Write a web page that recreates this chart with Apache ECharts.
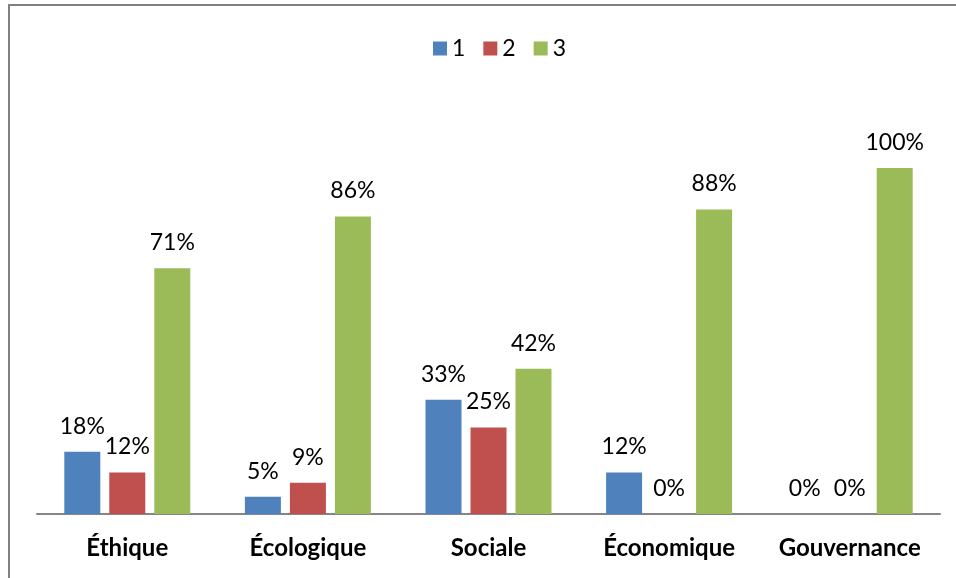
<!DOCTYPE html>
<html>
<head>
<meta charset="utf-8">
<script src="https://cdn.jsdelivr.net/npm/echarts@6/dist/echarts.min.js"></script>
<style>
  html, body { margin: 0; padding: 0; background: #fff; }
  #chart { width: 956px; height: 578px; }
</style>
</head>
<body>
<div id="chart"></div>
<script>
const categories = ['Éthique', 'Écologique', 'Sociale', 'Économique', 'Gouvernance']
const series1 = [18, 5, 33, 12, 0]
const series2 = [12, 9, 25, 0, 0]
const series3 = [71, 86, 42, 88, 100]
const seriesNames = ['1', '2', '3']
const colors = ['#4F81BD', '#C0504D', '#9BBB59']

const myChart = echarts.init(document.getElementById('chart'))

const labelStyle = {
    show: true,
    position: 'top',
    distance: 14,
    formatter: '{c}%',
    fontFamily: 'Lato',
    fontSize: 23,
    color: '#000'
}

function makeSeries(name, data, color) {
    return {
        name: name,
        type: 'bar',
        data: data,
        barWidth: 36,
        barGap: '25%',
        itemStyle: { color: color },
        label: labelStyle
    }
}

myChart.setOption({
    animation: false,
    color: colors,
    legend: {
        top: 32,
        left: 428,
        itemWidth: 14,
        itemHeight: 14,
        itemGap: 18,
        icon: 'rect',
        textStyle: { fontFamily: 'Lato', fontSize: 23, color: '#000' },
        data: seriesNames
    },
    grid: { left: 37, right: 16, top: 168, bottom: 64, containLabel: false },
    xAxis: {
        type: 'category',
        data: categories,
        axisLine: { lineStyle: { color: '#868686', width: 2 } },
        axisTick: { show: false },
        axisLabel: {
            interval: 0,
            hideOverlap: false,
            margin: 22,
            fontFamily: 'Lato',
            fontWeight: 'bold',
            fontSize: 24,
            color: '#000'
        }
    },
    yAxis: {
        type: 'value',
        min: 0,
        max: 100,
        show: false
    },
    graphic: [
        { type: 'line', shape: { x1: 9, y1: 5, x2: 9, y2: 578 }, style: { stroke: '#808080', lineWidth: 2 } },
        { type: 'line', shape: { x1: 8, y1: 5, x2: 956, y2: 5 }, style: { stroke: '#808080', lineWidth: 2 } }
    ],
    series: [
        makeSeries(seriesNames[0], series1, colors[0]),
        makeSeries(seriesNames[1], series2, colors[1]),
        makeSeries(seriesNames[2], series3, colors[2])
    ]
})
</script>
</body>
</html>
